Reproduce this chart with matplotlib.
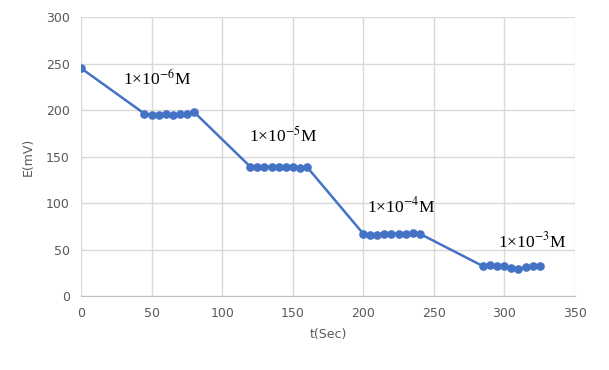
import numpy as np
import matplotlib.pyplot as plt

plt.rcParams['mathtext.fontset'] = 'stix'

# time (s) and potential (mV)
t = [0,
     45, 50, 55, 60, 65, 70, 75, 80,
     120, 125, 130, 135, 140, 145, 150, 155, 160,
     200, 205, 210, 215, 220, 225, 230, 235, 240,
     285, 290, 295, 300, 305, 310, 315, 320, 325]
e_mv = [245,
        196, 195, 195, 196, 195, 196, 196, 198,
        139, 139, 139, 139, 139, 139, 139, 138, 139,
        67, 66, 66, 67, 67, 67, 67, 68, 67,
        32, 33, 32, 32, 30, 29, 31, 32, 32]

labels = ['1×10$^{\\mathrm{-}6}$M', '1×10$^{\\mathrm{-}5}$M',
          '1×10$^{\\mathrm{-}4}$M', '1×10$^{\\mathrm{-}3}$M']
label_x = [54, 143, 227, 320]
label_y = [234, 172, 96, 59]

fig = plt.figure(figsize=(6.09, 3.70), dpi=100)
ax = fig.add_axes([0.133, 0.2, 0.811, 0.754])

ax.plot(t, e_mv, color='#4472C4', linewidth=1.8, marker='o', markersize=5.2, zorder=3)

for lab, lx, ly in zip(labels, label_x, label_y):
    ax.text(lx, ly, lab, ha='center', va='center', fontsize=12.5,
            family='Liberation Serif', color='black')

ax.set_xlim(0, 350)
ax.set_ylim(0, 300)
ax.set_xticks(np.arange(0, 351, 50))
ax.set_yticks(np.arange(0, 301, 50))
ax.grid(True, color='#d9d9d9', linewidth=1)
ax.set_axisbelow(True)
for s in ['top', 'right', 'left']:
    ax.spines[s].set_visible(False)
ax.spines['bottom'].set_color('#bfbfbf')
ax.tick_params(length=0, labelsize=9, labelcolor='#595959', pad=8)
ax.set_xlabel('t(Sec)', fontsize=9, color='#595959', labelpad=6)
ax.set_ylabel('E(mV)', fontsize=9, color='#595959', labelpad=8)

fig.savefig('out.png', dpi=100)
